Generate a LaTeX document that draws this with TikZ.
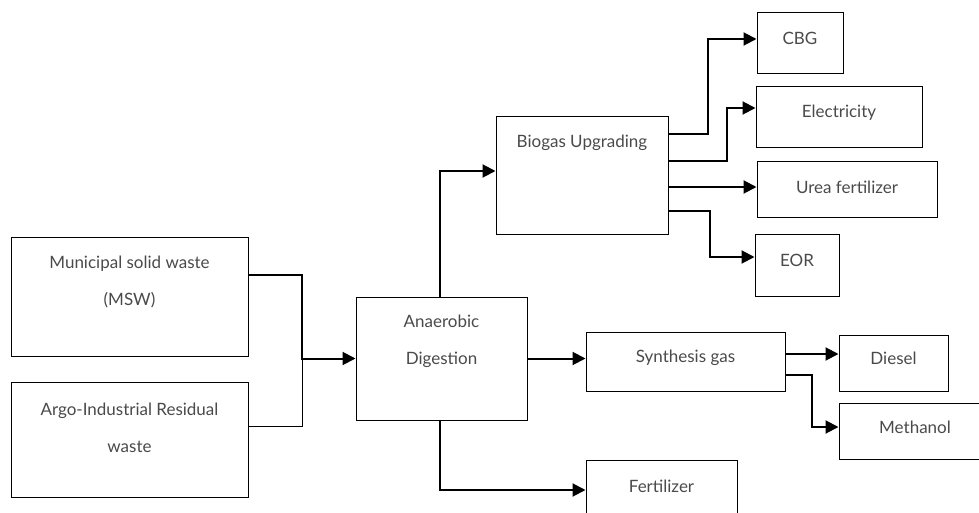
\documentclass[tikz,border=0pt]{standalone}
\usepackage{fontspec}
\setmainfont{Lato}
\usetikzlibrary{arrows.meta}
\definecolor{txtgray}{HTML}{4A4A4A}
\tikzset{
  box/.style={draw, line width=1pt, inner sep=0pt},
  lbl/.style={align=center, inner sep=0pt, text=txtgray, font={\fontsize{17}{37}\selectfont}},
  flow/.style={line width=2pt, -{Triangle[length=13pt,width=13pt]}},
  link/.style={line width=1pt}
}
\begin{document}
\begin{tikzpicture}[x=1pt, y=-1pt]
				\clip (0,0) rectangle (979,513);
				
				% 原料
				\node[box, minimum width=237pt, minimum height=119pt] (msw) at (129.5,296.5) {};
				\node[box, minimum width=237pt, minimum height=115pt] (argo) at (129.5,439.5) {};
				\node[lbl] (msw-lbl) at (129.5,282) {Municipal solid waste\\(MSW)};
				\node[lbl] (argo-lbl) at (129.5,428) {Argo-Industrial Residual\\waste};
				
				% 厌氧消化
				\node[box, minimum width=171pt, minimum height=123pt] (ad) at (441.5,358.5) {};
				\node[lbl] (ad-lbl) at (441.5,341) {Anaerobic\\Digestion};
				
				% 中间过程
				\node[box, minimum width=172pt, minimum height=117pt] (biogas) at (582,175.5) {};
				\node[box, minimum width=199pt, minimum height=59pt] (syn) at (685.5,361.5) {};
				\node[box, minimum width=151pt, minimum height=60pt] (fert) at (661.5,490) {};
				\node[lbl] (biogas-lbl) at (582,143) {Biogas Upgrading};
				\node[lbl] (syn-lbl) at (685.5,358) {Synthesis gas};
				\node[lbl] (fert-lbl) at (661.5,486) {Fertilizer};
				
				% 产品
				\node[box, minimum width=86pt, minimum height=61pt] (cbg) at (800,43.5) {};
				\node[box, minimum width=166pt, minimum height=61pt] (elec) at (839,117.5) {};
				\node[box, minimum width=180pt, minimum height=55pt] (urea) at (847,189.5) {};
				\node[box, minimum width=84pt, minimum height=62pt] (eor) at (797,265) {};
				\node[box, minimum width=109pt, minimum height=56pt] (diesel) at (893.5,363) {};
				\node[box, minimum width=152pt, minimum height=56pt] (meth) at (915,431) {};
				\node[lbl] (cbg-lbl) at (800,38) {CBG};
				\node[lbl] (elec-lbl) at (839,113) {Electricity};
				\node[lbl] (urea-lbl) at (847,187) {Urea fertilizer};
				\node[lbl] (eor-lbl) at (797,260) {EOR};
				\node[lbl] (diesel-lbl) at (893.5,358) {Diesel};
				\node[lbl] (meth-lbl) at (915,427) {Methanol};
				
				% 连线
				\coordinate (join) at (302,358.5);
				\draw[link] ([yshift=13.5pt]argo.east) -| (join);
				\draw[flow] ([yshift=21.5pt]msw.east) -| (join) -- (ad.west);
				
				\draw[flow] ([xshift=-1.5pt]ad.north) |- ([yshift=4.5pt]biogas.west);
				\draw[flow] (ad.east) -- (ad.east -| syn.west);
				\draw[flow] ([xshift=-1.5pt]ad.south) |- (fert.west);
				
				\draw[flow] ([yshift=41.5pt]biogas.east) -- ++(39,0) |- ([yshift=4.5pt]cbg.west);
				\draw[flow] ([yshift=14.5pt]biogas.east) -- ++(58,0) |- ([yshift=9.5pt]elec.west);
				\draw[flow] ([yshift=-11.5pt]biogas.east) coordinate (u0) -- (u0 -| urea.west);
				\draw[flow] ([yshift=-35.5pt]biogas.east) -- ++(41,0) |- ([yshift=8pt]eor.west);
				
				\draw[flow] ([yshift=7.5pt]syn.east) coordinate (d0) -- (d0 -| diesel.west);
				\draw[flow] ([yshift=-13.5pt]syn.east) -- ++(26,0) |- ([yshift=4pt]meth.west);
			\end{tikzpicture}
\end{document}
